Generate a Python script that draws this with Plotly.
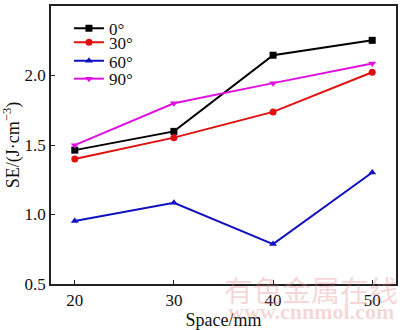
import plotly.graph_objects as go

space = [20, 30, 40, 50]
se_0 = [1.463, 1.598, 2.146, 2.253]
se_30 = [1.399, 1.553, 1.738, 2.023]
se_60 = [0.953, 1.084, 0.787, 1.302]
se_90 = [1.499, 1.800, 1.945, 2.087]

series = [
    ("0°", se_0, "#000000", "square"),
    ("30°", se_30, "#e01010", "circle"),
    ("60°", se_60, "#1010c0", "triangle-up"),
    ("90°", se_90, "#e010e0", "triangle-down"),
]
legend_rows = [0.918, 0.868, 0.801, 0.737]

FONT = "Times New Roman, Liberation Serif, serif"

fig = go.Figure()
for i, (name, ys, color, sym) in enumerate(series):
    lg = "legend" if i == 0 else f"legend{i+1}"
    fig.add_trace(go.Scatter(
        x=space, y=ys, name=name, mode="lines+markers", legend=lg,
        line=dict(color=color, width=2),
        marker=dict(symbol=sym, size=7, color=color),
    ))

axis_common = dict(
    showline=True, linecolor="#222222", linewidth=1.5, mirror=True,
    ticks="inside", ticklen=4, tickcolor="#222222", showgrid=False, zeroline=False,
    tickfont=dict(family=FONT, size=17, color="#111111"),
)

legend_common = dict(x=0.052, xanchor="left", yanchor="middle",
                     bgcolor="rgba(0,0,0,0)", font=dict(family=FONT, size=17, color="#111111"),
                     itemwidth=30)

layout_legends = {}
for i, yv in enumerate(legend_rows):
    key = "legend" if i == 0 else f"legend{i+1}"
    layout_legends[key] = dict(y=yv, **legend_common)

fig.update_layout(
    width=400, height=330,
    margin=dict(l=51, r=2, t=6, b=43),
    paper_bgcolor="white", plot_bgcolor="white",
    font=dict(family=FONT, size=17, color="#111111"),
    xaxis=dict(range=[17.6, 52.4], tickvals=[20, 30, 40, 50],
               title=dict(text="Space/mm", standoff=5, font=dict(family=FONT, size=18)),
               **axis_common),
    yaxis=dict(range=[0.5, 2.5], tickvals=[0.5, 1.0, 1.5, 2.0, 2.5], tickformat=".1f",
               title=dict(text="SE/(J·cm<sup>−3</sup>)", standoff=5, font=dict(family=FONT, size=18)),
               **axis_common),
    showlegend=True,
    **layout_legends,
)

WM = "rgba(225,130,130,0.33)"
fig.add_annotation(text="有色金属在线", xref="paper", yref="paper", x=1.0, y=-0.018,
                   xanchor="right", yanchor="middle", showarrow=False, xshift=4,
                   font=dict(family="Noto Sans CJK SC", size=29, color=WM))
fig.add_annotation(text="<b>www.cnnmol.com</b>", xref="paper", yref="paper", x=1.0, y=-0.152,
                   xanchor="right", yanchor="bottom", showarrow=False,
                   font=dict(family=FONT, size=22, color=WM))

fig.write_html("out.html")
